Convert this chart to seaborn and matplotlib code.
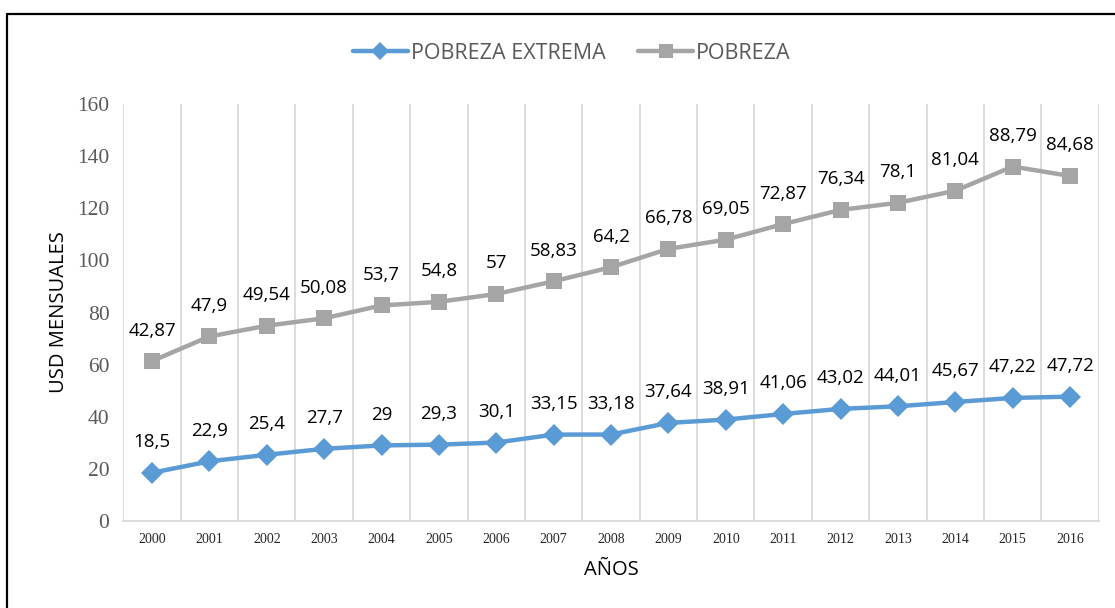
import matplotlib
matplotlib.use("Agg")
import matplotlib.pyplot as plt
from matplotlib.lines import Line2D
from matplotlib.ticker import FixedLocator
import seaborn as sns
import pandas as pd
import numpy as np

years = ["2000", "2001", "2002", "2003", "2004", "2005", "2006", "2007", "2008",
         "2009", "2010", "2011", "2012", "2013", "2014", "2015", "2016"]
pobreza_extrema = [18.5, 22.9, 25.4, 27.7, 29, 29.3, 30.1, 33.15, 33.18,
                   37.64, 38.91, 41.06, 43.02, 44.01, 45.67, 47.22, 47.72]
pobreza = [42.87, 47.9, 49.54, 50.08, 53.7, 54.8, 57, 58.83, 64.2,
           66.78, 69.05, 72.87, 76.34, 78.1, 81.04, 88.79, 84.68]
yticks = [0, 20, 40, 60, 80, 100, 120, 140, 160]

sns.set_theme(style="white")
plt.rcParams["font.family"] = ["Open Sans", "DejaVu Sans"]

BLUE = "#5B9BD5"
GREY = "#A5A5A5"

idx = np.arange(len(years))
# stacked line chart: POBREZA plotted on top of POBREZA EXTREMA
stacked = [a + b for a, b in zip(pobreza_extrema, pobreza)]
df = pd.DataFrame({
    "x": np.concatenate([idx, idx]),
    "y": pobreza_extrema + stacked,
    "label": pobreza_extrema + pobreza,
    "serie": ["POBREZA EXTREMA"] * len(years) + ["POBREZA"] * len(years),
})

fig = plt.figure(figsize=(11.15, 6.08), dpi=100)
ax = fig.add_axes([0.1106, 0.1431, 0.8748, 0.6858])

sns.lineplot(data=df, x="x", y="y", hue="serie", style="serie",
             palette={"POBREZA EXTREMA": BLUE, "POBREZA": GREY},
             markers={"POBREZA EXTREMA": "D", "POBREZA": "s"},
             dashes=False, linewidth=3.2, markersize=11, markeredgewidth=0,
             legend=False, ax=ax, zorder=3)

def fmt(v):
    return ("%g" % v).replace(".", ",")

for _, r in df.iterrows():
    ax.annotate(fmt(r["label"]), (r["x"], r["y"]), xytext=(0, 22),
                textcoords="offset points", ha="center", va="center",
                fontsize=13.5, color="black", zorder=4)

ax.set_xlim(-0.5, len(years) - 0.5)
ax.set_ylim(0, 160)
ax.set_xticks(idx)
ax.set_xticklabels(years, family="Liberation Serif", fontsize=10, color="#262626")
ax.xaxis.set_minor_locator(FixedLocator(np.arange(-0.5, len(years), 1.0)))
ax.grid(which="minor", axis="x", color="#D9D9D9", linewidth=1.3)
ax.grid(which="major", axis="both", visible=False)
ax.set_yticks(yticks)
ax.set_yticklabels([str(t) for t in yticks], family="Liberation Serif",
                   fontsize=15.5, color="#595959")
ax.tick_params(axis="y", length=0, pad=10)
ax.tick_params(axis="x", which="both", length=0, pad=9)
for s in ["top", "right", "left"]:
    ax.spines[s].set_visible(False)
ax.spines["bottom"].set_color("#D9D9D9")
ax.spines["bottom"].set_linewidth(1.3)

ax.set_xlabel("AÑOS", fontsize=14.5, color="black", labelpad=10)
ax.set_ylabel("USD MENSUALES", fontsize=14.5, color="black", labelpad=6)

handles = [
    Line2D([], [], color=BLUE, linewidth=3.2, marker="D", markersize=9, markeredgewidth=0),
    Line2D([], [], color=GREY, linewidth=3.2, marker="s", markersize=10, markeredgewidth=0),
]
fig.legend(handles, ["POBREZA EXTREMA", "POBREZA"], loc="center",
           bbox_to_anchor=(0.513, 0.9128), ncol=2, frameon=False,
           fontsize=15.5, labelcolor="#595959", handlelength=2.55,
           handletextpad=0.15, columnspacing=1.5)

# outer frame (left and top edges)
fig.add_artist(Line2D([7 / 1115, 7 / 1115, 1.0], [0.0, 1 - 14 / 608, 1 - 14 / 608],
                      transform=fig.transFigure, color="black", linewidth=1.6))

fig.savefig("out.png", dpi=100)
